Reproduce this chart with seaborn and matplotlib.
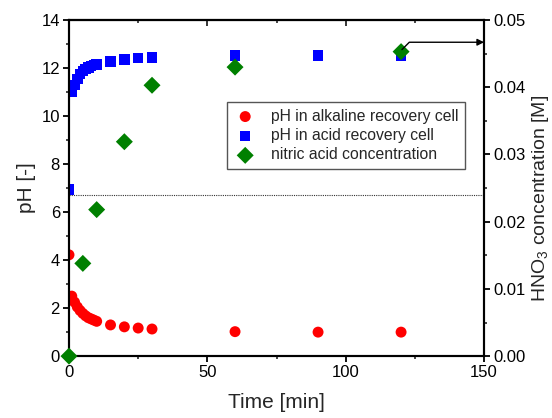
import matplotlib
matplotlib.use("Agg")
import matplotlib.pyplot as plt
import seaborn as sns
import pandas as pd
from matplotlib.ticker import MultipleLocator

# ---- data ----
time_ph = [0, 1, 2, 3, 4, 5, 6, 7, 8, 9, 10, 15, 20, 25, 30, 60, 90, 120]
ph_alkaline = [4.22, 2.5, 2.25, 2.05, 1.9, 1.78, 1.68, 1.6, 1.55, 1.5, 1.45,
               1.3, 1.22, 1.17, 1.13, 1.02, 1.0, 1.0]
ph_acid = [6.95, 11.0, 11.3, 11.55, 11.75, 11.88, 11.97, 12.03, 12.08, 12.12, 12.16,
           12.27, 12.36, 12.42, 12.45, 12.53, 12.53, 12.5]
time_hno3 = [0, 5, 10, 20, 30, 60, 120]
conc_hno3 = [0.0, 0.0138, 0.0218, 0.0319, 0.0403, 0.0430, 0.0453]
neutral_ph = 6.7

label_alk = "pH in alkaline recovery cell"
label_acid = "pH in acid recovery cell"
label_hno3 = "nitric acid concentration"

sns.set_style("ticks")
plt.rcParams["font.family"] = ["Liberation Sans", "DejaVu Sans"]
plt.rcParams["mathtext.fontset"] = "custom"
plt.rcParams["mathtext.rm"] = "Liberation Sans"

df_ph = pd.DataFrame({"t": time_ph, "alk": ph_alkaline, "acid": ph_acid})
df_n = pd.DataFrame({"t": time_hno3, "c": conc_hno3})

fig = plt.figure(figsize=(5.52, 4.18), dpi=100)
ax = fig.add_axes([0.125, 0.148, 0.752, 0.804])
ax2 = ax.twinx()

sns.scatterplot(data=df_ph, x="t", y="alk", ax=ax, color="#ff0000", marker="o",
                s=62, edgecolor="none", label=label_alk, legend=False, zorder=3)
sns.scatterplot(data=df_ph, x="t", y="acid", ax=ax, color="#0000ff", marker="s",
                s=58, edgecolor="none", label=label_acid, legend=False, zorder=3)
sns.scatterplot(data=df_n, x="t", y="c", ax=ax2, color="#008000", marker="D",
                s=75, edgecolor="none", label=label_hno3, legend=False, zorder=3,
                clip_on=False)

ax.axhline(neutral_ph, color="#333333", ls=(0, (1, 1)), lw=0.8, zorder=1)

ax.set_xlim(0, 150)
ax.set_ylim(0, 14)
ax2.set_ylim(0, 0.05)

ax.xaxis.set_major_locator(MultipleLocator(50))
ax.xaxis.set_minor_locator(MultipleLocator(25))
ax.yaxis.set_major_locator(MultipleLocator(2))
ax.yaxis.set_minor_locator(MultipleLocator(1))
ax2.yaxis.set_major_locator(MultipleLocator(0.01))
ax2.yaxis.set_minor_locator(MultipleLocator(0.005))
ax2.yaxis.set_major_formatter(matplotlib.ticker.FormatStrFormatter("%.2f"))

for a in (ax, ax2):
    for sp in a.spines.values():
        sp.set_linewidth(1.5)
        sp.set_color("black")
    a.tick_params(which="major", length=4, width=1.3, labelsize=12, colors="black",
                  pad=2.5)
    a.tick_params(which="minor", length=2.5, width=1.2)

ax.tick_params(axis="both", which="both", direction="out")
ax2.tick_params(axis="y", which="both", direction="out")

top = ax.secondary_xaxis("top")
top.xaxis.set_major_locator(MultipleLocator(50))
top.xaxis.set_minor_locator(MultipleLocator(25))
top.tick_params(which="both", direction="in", labeltop=False)
top.tick_params(which="major", length=4, width=1.3)
top.tick_params(which="minor", length=2.5, width=1.2)
top.spines["top"].set_linewidth(1.5)

ax.set_xlabel("Time [min]", fontsize=15, labelpad=9)
ax.set_ylabel("pH [-]", fontsize=15, labelpad=4)
ax2.set_ylabel("HNO$_3$ concentration [M]", fontsize=14)
ax2.yaxis.set_label_coords(1.111, 0.47)

ax2.annotate("", xy=(150, 0.0467), xytext=(120.3, 0.0456),
             arrowprops=dict(arrowstyle="-|>", color="black", lw=1.0,
                             shrinkA=0, shrinkB=0, mutation_scale=10,
                             connectionstyle="angle,angleA=45,angleB=0,rad=0"),
             annotation_clip=False)

h1, l1 = ax.get_legend_handles_labels()
h2, l2 = ax2.get_legend_handles_labels()
leg = ax2.legend(h1 + h2, l1 + l2, loc="upper left", bbox_to_anchor=(0.381, 0.755),
                 fontsize=11.3, frameon=True, fancybox=False, framealpha=1,
                 edgecolor="#555555", borderpad=0.4, handletextpad=0.9,
                 labelspacing=0.28, handlelength=1.5, borderaxespad=0)
leg.get_frame().set_linewidth(1.0)

fig.savefig("out.png", dpi=100)
